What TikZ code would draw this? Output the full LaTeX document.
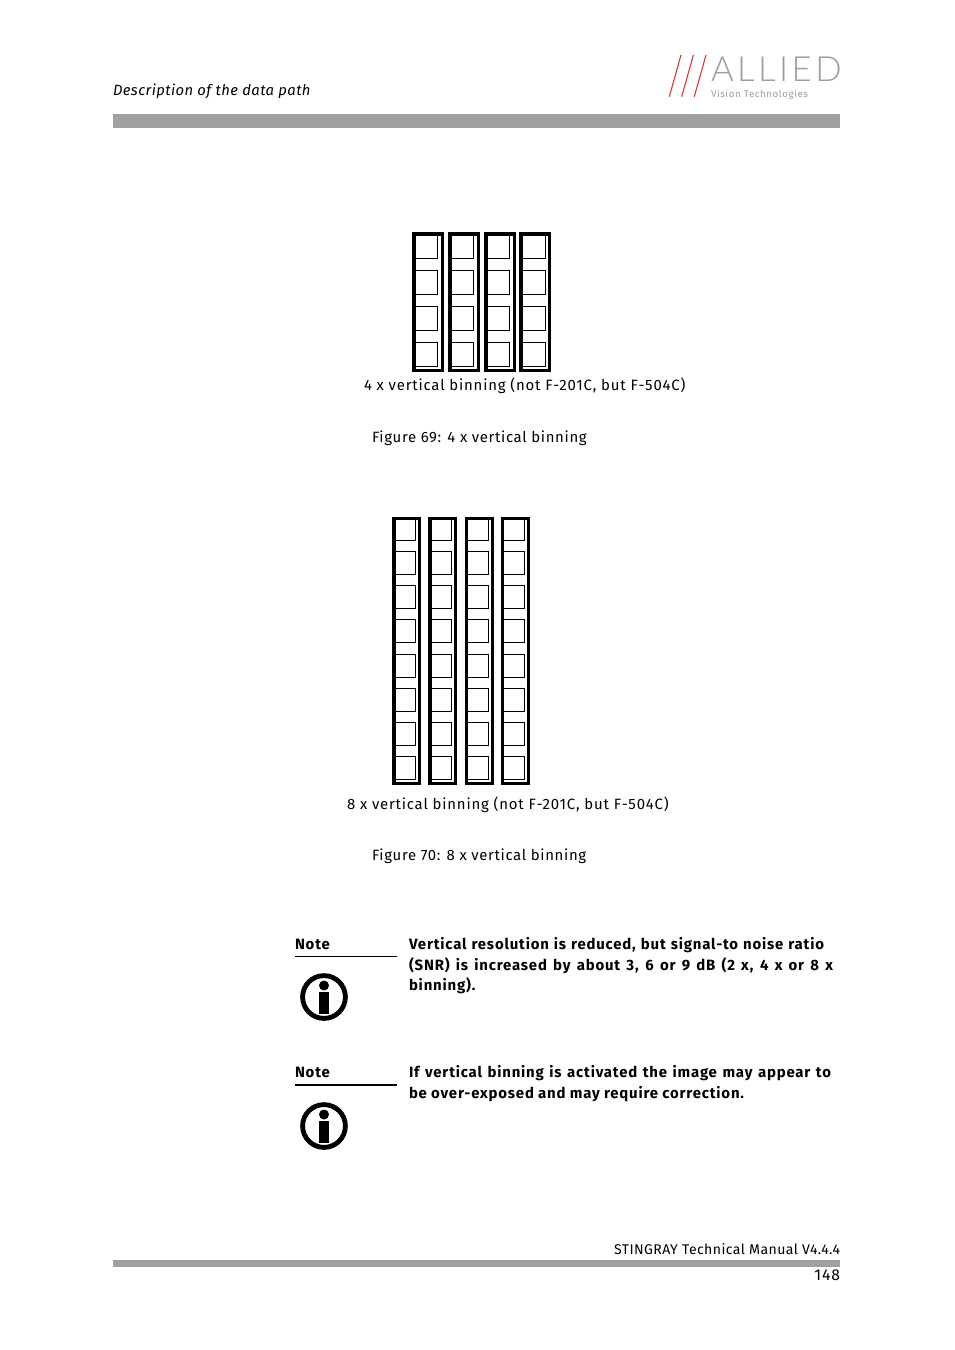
\documentclass[tikz,border=0pt]{standalone}
\usepackage{fontspec}
\setmainfont{Fira Sans}[LetterSpace=5.5]
\newfontfamily\logofont{Lato Light}[LetterSpace=10]
\newfontfamily\logosub{Fira Sans}[LetterSpace=6]
\newfontfamily\boldfam{Fira Sans}[LetterSpace=5.5,BoldFont={Fira Sans Bold}]
\newfontfamily\itfam{Fira Sans}[LetterSpace=3]
\newfontfamily\footfam{Fira Sans}[LetterSpace=3]
\newfontfamily\figfam{Fira Sans}[LetterSpace=4.5]
\newcommand{\px}[1]{\dimexpr #1pt*3/4\relax}
\newcommand{\fitline}[2]{\makebox[#1pt][s]{#2}}
\definecolor{barc}{HTML}{A0A0A0}
\definecolor{logoc}{HTML}{9C9C9C}
\definecolor{redc}{HTML}{D8332A}
\tikzset{
 txt/.style={anchor=base west,inner sep=0pt,outer sep=0pt,font=\fontsize{11.2pt}{14pt}\selectfont},
 figtxt/.style={txt,font=\figfam\fontsize{11.2pt}{14pt}\selectfont},
 txtr/.style={txt,anchor=base east,font=\footfam\fontsize{10.55pt}{14pt}\selectfont},
 pagetxt/.style={txt,anchor=base east,font=\fontsize{11.8pt}{14pt}\selectfont},
 boldtxt/.style={txt,font=\boldfam\fontsize{11.2pt}{14pt}\selectfont\bfseries},
 bar/.style={fill=barc,draw=none},
 cell/.style={draw=black,line width=0.9pt,fill=none},
 column/.style={draw=black,line width=2.4pt,fill=none},
 slash/.style={draw=redc,line width=0.8pt},
 infoicon/.pic={
  \draw[black,line width=3.6pt] (0,0) circle (21.4);
  \fill[black] (0,-11.5) circle (5);
  \fill[black] (-5,-5.5) rectangle (5,17);
 }
}
\begin{document}
\begin{tikzpicture}[x=0.75pt,y=-0.75pt]
\useasboundingbox (0,0) rectangle (954,1350);
\fill[white] (0,0) rectangle (954,1350);
% header
\node[txt,font=\itfam\fontsize{11.1pt}{14pt}\selectfont\itshape] (head) at (113,95) {Description of the data path};
\fill[bar] (113,114) rectangle (840,128);
\foreach \x in {0,12.4,25}{
 \draw[slash] (669.3+\x,96.7) -- (681+\x,55);
}
\node[txt,text=logoc,font=\logofont\fontsize{26pt}{30pt}\selectfont] (logoa) at (711,81) {ALLIED};
\node[txt,text=logoc,font=\logosub\fontsize{7.3pt}{9pt}\selectfont] (logob) at (711,97) {Vision Technologies};
% group 1
\foreach \cx/\rx in {413.9/437.5,449.9/473.5,485.9/509.5,520.9/545.5}{
 \foreach \ty/\by in {234/258.5,270.5/294.5,306.5/330.5,342.5/366.5}{
  \draw[cell] (\cx,\ty) rectangle (\rx,\by);
 }
 \draw[column] (\cx,233.9) rectangle (\cx+28.6,370.1);
}
\node[txt] (c1) at (364,390) {4 x vertical binning (not F-201C, but F-504C)};
\node[figtxt] (f1) at (372,442) {Figure 69: 4 x vertical binning};
% group 2
\foreach \cx/\rx in {393.9/415.5,429.9/451.5,466.6/488.5,502.6/524.5}{
 \foreach \ty in {517.5,551.5,585.5,619.5,654.5,688.5,722.5,756.5}{
  \draw[cell] (\cx,\ty) rectangle (\rx,\ty+23);
 }
 \draw[column] (\cx,518.3) rectangle (\cx+25.8,783.1);
}
\node[txt] (c2) at (347,809) {8 x vertical binning (not F-201C, but F-504C)};
\node[figtxt] (f2) at (372,860) {Figure 70: 8 x vertical binning};
% notes
\node[boldtxt] (n1) at (295,949) {Note};
\draw[black,line width=0.75pt] (295,956.5) -- (397,956.5);
\pic at (324,997) {infoicon};
\node[boldtxt] (t1a) at (409,949) {\fitline{311.3}{Vertical resolution is reduced, but signal-to noise ratio}};
\node[boldtxt] (t1b) at (409,970) {\fitline{318}{(SNR) is increased by about 3, 6 or 9 dB (2 x, 4 x or 8 x}};
\node[boldtxt] (t1c) at (409,990) {binning).};
\node[boldtxt] (n2) at (295,1077) {Note};
\draw[black,line width=1.5pt] (295,1085) -- (397,1085);
\pic at (324,1126) {infoicon};
\node[boldtxt] (t2a) at (409,1077) {\fitline{316.5}{If vertical binning is activated the image may appear to}};
\node[boldtxt] (t2b) at (409,1098) {\fitline{251.3}{be over-exposed and may require correction.}};
% footer
\node[txtr] (foot) at (840,1254) {STINGRAY Technical Manual V4.4.4};
\fill[bar] (113,1260) rectangle (840,1267);
\node[pagetxt] (page) at (840,1280.5) {148};
\end{tikzpicture}
\end{document}
